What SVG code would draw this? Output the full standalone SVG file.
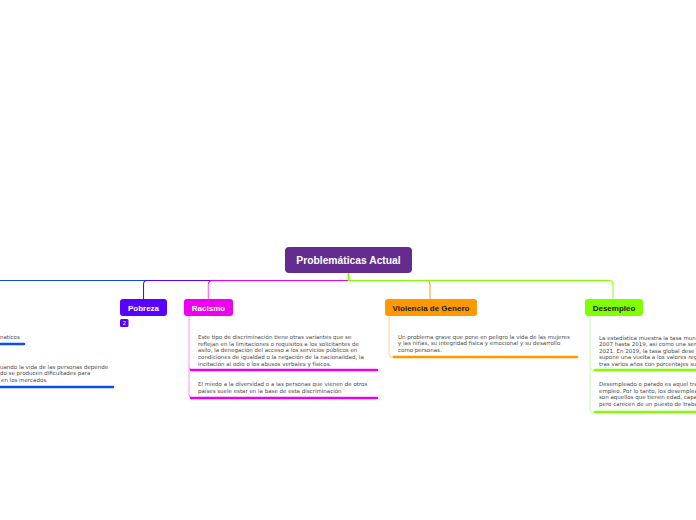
<svg xmlns="http://www.w3.org/2000/svg" width="696" height="520" viewBox="0 0 696 520">
<style>
.t{font-family:"Liberation Sans",Arial,sans-serif;font-weight:bold;font-size:8px;text-anchor:middle}
.b{font-family:"DejaVu Sans",Verdana,sans-serif;font-size:5.5px;fill:#4a4a4a}
.c{fill:none;stroke-width:1.1;stroke-linecap:round}
.bar{fill:none;stroke-width:2.6;stroke-linecap:round}
</style>
<rect width="696" height="520" fill="#ffffff"/>
<g id="connectors">
  <path class="c" stroke="#0a47f0" d="M348.5,273 V280.5 H0"/>
  <path class="c" stroke="#5a00ff" d="M348.5,273 V280.5 H147.5 Q143.5,280.5 143.5,284.5 V299"/>
  <path class="c" stroke="#ee00ee" d="M348.5,273 V280.5 H212.5 Q208.5,280.5 208.5,284.5"/>
  <path class="c" stroke="#f580f5" d="M208.5,284.5 V299" style="stroke-width:1.6"/>
  <path class="c" stroke="#ff9900" d="M348.5,280.5 H426 Q430,280.5 430,284.5"/>
  <path class="c" stroke="#ffc070" d="M430,284.5 V299" style="stroke-width:1.6"/>
  <path class="c" stroke="#7fff00" d="M348.5,273 V280.5 H609 Q613,280.5 613,284.5"/>
  <path class="c" stroke="#b8ff7a" d="M613,284.5 V299" style="stroke-width:1.6"/>
  <path class="c" stroke="#f7a0f7" d="M189,316 V366 Q189,370 193,370 M189,366 V394 Q189,398 193,398"/>
  <path class="c" stroke="#ffd49a" d="M389,316 V353 Q389,357 393,357"/>
  <path class="c" stroke="#cfffa6" d="M590,316 V366 Q590,370 594,370 M590,366 V408 Q590,412 594,412"/>
</g>
<g id="central">
  <rect x="285" y="247" width="127" height="26" rx="4" fill="#652c90"/>
  <text class="t" x="348.5" y="264" fill="#ffffff" style="font-size:10.3px">Problemáticas Actual</text>
</g>
<g id="left-branch">
  <text class="b" x="0" y="339">naticos</text>
  <path class="bar" stroke="#0a4ff0" d="M0,344 H24"/>
  <text class="b" x="0" y="368.5">uando la vida de las personas depende</text>
  <text class="b" x="0" y="375">do se producen dificultades para</text>
  <text class="b" x="1" y="381.5">en los mercados.</text>
  <path class="bar" stroke="#0a4ff0" d="M0,387 H113"/>
</g>
<g id="pobreza">
  <rect x="120" y="299" width="47" height="17" rx="3" fill="#5a00ff"/>
  <text class="t" x="143.5" y="310.8" fill="#ffffff">Pobreza</text>
  <rect x="120" y="319" width="8.5" height="8" rx="1.5" fill="#5a00ff"/>
  <text x="124.2" y="325.2" fill="#ffffff" style="font-family:'Liberation Sans',Arial,sans-serif;font-size:5.5px;text-anchor:middle">2</text>
</g>
<g id="racismo">
  <rect x="184" y="299" width="49" height="17" rx="3" fill="#ee00ee"/>
  <text class="t" x="208.5" y="310.8" fill="#ffffff">Racismo</text>
  <text class="b" x="198" y="339">Este tipo de discriminación tiene otras variantes que se</text>
  <text class="b" x="198" y="345.7">reflejan en la limitaciones o requisitos a los solicitantes de</text>
  <text class="b" x="198" y="352.4">asilo, la denegación del acceso a los servicios públicos en</text>
  <text class="b" x="198" y="359.1">condiciones de igualdad o la negación de la nacionalidad, la</text>
  <text class="b" x="198" y="365.8">incitación al odio o los abusos verbales y físicos.</text>
  <path class="bar" stroke="#ee00ee" d="M191,370 H377"/>
  <text class="b" x="198" y="386">El miedo a la diversidad o a las personas que vienen de otros</text>
  <text class="b" x="198" y="392.7">países suele estar en la base de esta discriminación</text>
  <path class="bar" stroke="#ee00ee" d="M191,398 H377"/>
</g>
<g id="violencia">
  <rect x="385" y="299" width="92" height="17" rx="3" fill="#ff9900"/>
  <text class="t" x="431" y="310.8" fill="#1a1a1a">Violencia de Genero</text>
  <text class="b" x="398" y="338.5">Un problema grave que pone en peligro la vida de las mujeres</text>
  <text class="b" x="398" y="345.2">y las niñas, su integridad física y emocional y su desarrollo</text>
  <text class="b" x="398" y="351.9">como personas.</text>
  <path class="bar" stroke="#ff9900" d="M394,357 H577"/>
</g>
<g id="desempleo">
  <rect x="585" y="299" width="58" height="17" rx="3" fill="#7fff00"/>
  <text class="t" x="614" y="310.8" fill="#1a1a1a">Desempleo</text>
  <text class="b" x="599" y="339.5">La estadística muestra la tasa mun</text>
  <text class="b" x="599" y="346">2007 hasta 2019, así como una ser</text>
  <text class="b" x="599" y="352.5">2021. En 2019, la tasa global dese</text>
  <text class="b" x="599" y="359">supone una vuelta a los valores reg</text>
  <text class="b" x="599" y="365.5">tras varios años con porcentajes su</text>
  <path class="bar" stroke="#7fff00" d="M595,370 H700"/>
  <text class="b" x="599" y="386">Desempleado o parado es aquel tra</text>
  <text class="b" x="599" y="392.5">empleo. Por lo tanto, los desemplea</text>
  <text class="b" x="599" y="399">son aquellos que tienen edad, capa</text>
  <text class="b" x="599" y="405.5">pero carecen de un puesto de traba</text>
  <path class="bar" stroke="#7fff00" d="M595,412 H700"/>
</g>
</svg>
